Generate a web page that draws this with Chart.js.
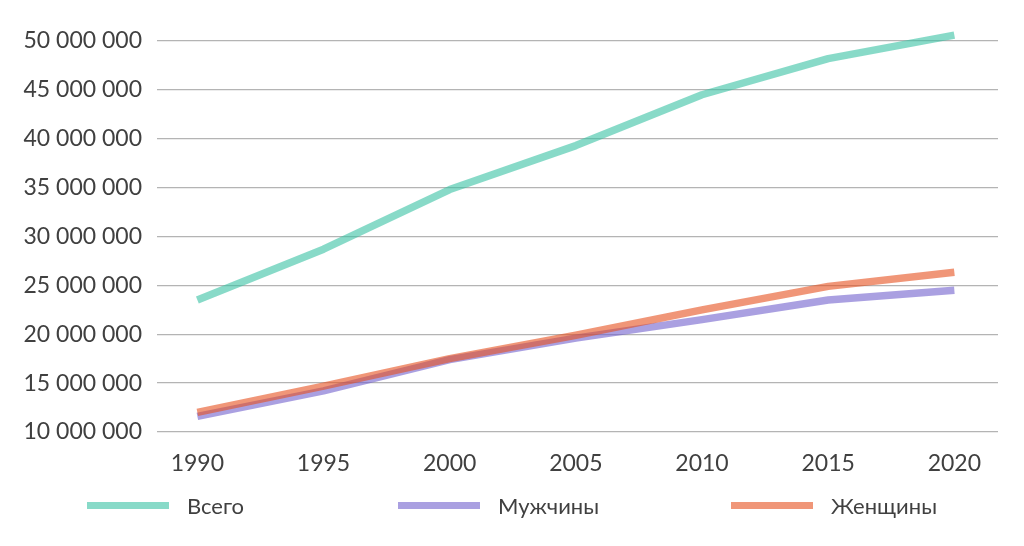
<!DOCTYPE html>
<html lang="ru">
<head>
<meta charset="utf-8">
<title>Население</title>
<script src="https://cdn.jsdelivr.net/npm/chart.js@4.4.1/dist/chart.umd.min.js"></script>
<style>
  html, body { margin: 0; padding: 0; background: #fff; }
  #wrap { position: relative; width: 1024px; height: 546px; }
  #legend {
    position: absolute; left: 0; right: 0; top: 492px;
    display: flex; justify-content: center;
    font-family: Lato, sans-serif; font-size: 22px; color: #404040;
  }
  .legend-item { display: flex; align-items: center; }
  .legend-item + .legend-item { margin-left: 154px; }
  .legend-item + .legend-item + .legend-item { margin-left: 132px; }
  .legend-swatch { width: 82px; height: 7px; margin-right: 18px; }
</style>
</head>
<body>
<div id="wrap">
  <canvas id="chart" width="1024" height="546"></canvas>
  <div id="legend"></div>
</div>
<script>
// Data
const years = [1990, 1995, 2000, 2005, 2010, 2015, 2020];
const totalPop  = [23500000, 28700000, 34800000, 39300000, 44500000, 48200000, 50600000];
const malePop   = [11600000, 14200000, 17400000, 19600000, 21500000, 23500000, 24500000];
const femalePop = [12000000, 14700000, 17500000, 19900000, 22500000, 24900000, 26350000];
const seriesNames = ['Всего', 'Мужчины', 'Женщины'];
const xTickLabels = [1990, 1995, 2000, 2005, 2010, 2015, 2020];
const yTickValues = [10000000, 15000000, 20000000, 25000000, 30000000, 35000000, 40000000, 45000000, 50000000];

// Semi-transparent line colours (overlap darkens like in the original)
const colors = ['rgba(57, 193, 163, 0.6)', 'rgba(113, 97, 205, 0.6)', 'rgba(230, 80, 30, 0.6)'];

const FONT = 'Lato';
const TEXT = '#404040';

function toPoints(values) {
  return years.map((y, i) => ({ x: y, y: values[i] }));
}

function formatNum(v) {
  return String(v).replace(/\B(?=(\d{3})+(?!\d))/g, ' ');
}

const seriesValues = [totalPop, malePop, femalePop];
const drawOrder = [3, 2, 1]; // women on top of men, as in the reference

const datasets = seriesValues.map((vals, i) => ({
  label: seriesNames[i],
  data: toPoints(vals),
  borderColor: colors[i],
  backgroundColor: colors[i],
  borderWidth: 7.5,
  borderCapStyle: 'butt',
  borderJoinStyle: 'round',
  pointRadius: 0,
  tension: 0,
  clip: false,
  order: drawOrder[i]
}));

new Chart(document.getElementById('chart'), {
  type: 'line',
  data: { datasets },
  options: {
    responsive: false,
    animation: false,
    layout: { padding: { top: 41, right: 26, left: 0, bottom: 0 } },
    plugins: {
      legend: { display: false },
      tooltip: { enabled: false }
    },
    scales: {
      x: {
        type: 'linear',
        min: 1988.4,
        max: 2021.73,
        grid: { display: false },
        border: { display: false },
        afterBuildTicks: (s) => { s.ticks = xTickLabels.map(v => ({ value: v })); },
        afterFit: (s) => { s.height = 114; },
        ticks: {
          padding: 10,
          color: TEXT,
          font: { family: FONT, size: 23 },
          callback: (v) => String(v),
          maxRotation: 0
        }
      },
      y: {
        min: 10000000,
        max: 50000000,
        afterBuildTicks: (s) => { s.ticks = yTickValues.map(v => ({ value: v })); },
        afterFit: (s) => { s.width = 157; },
        grid: { color: '#b4b4b4', lineWidth: 1.3, drawTicks: false },
        border: { display: false },
        ticks: {
          padding: 15,
          color: TEXT,
          font: { family: FONT, size: 23 },
          callback: (v) => formatNum(v)
        }
      }
    }
  }
});

// Legend below the plot
const legend = document.getElementById('legend');
seriesNames.forEach((name, i) => {
  const item = document.createElement('div');
  item.className = 'legend-item';
  item.innerHTML = `<span class="legend-swatch" style="background:${colors[i]}"></span><span>${name}</span>`;
  legend.appendChild(item);
});
</script>
</body>
</html>
